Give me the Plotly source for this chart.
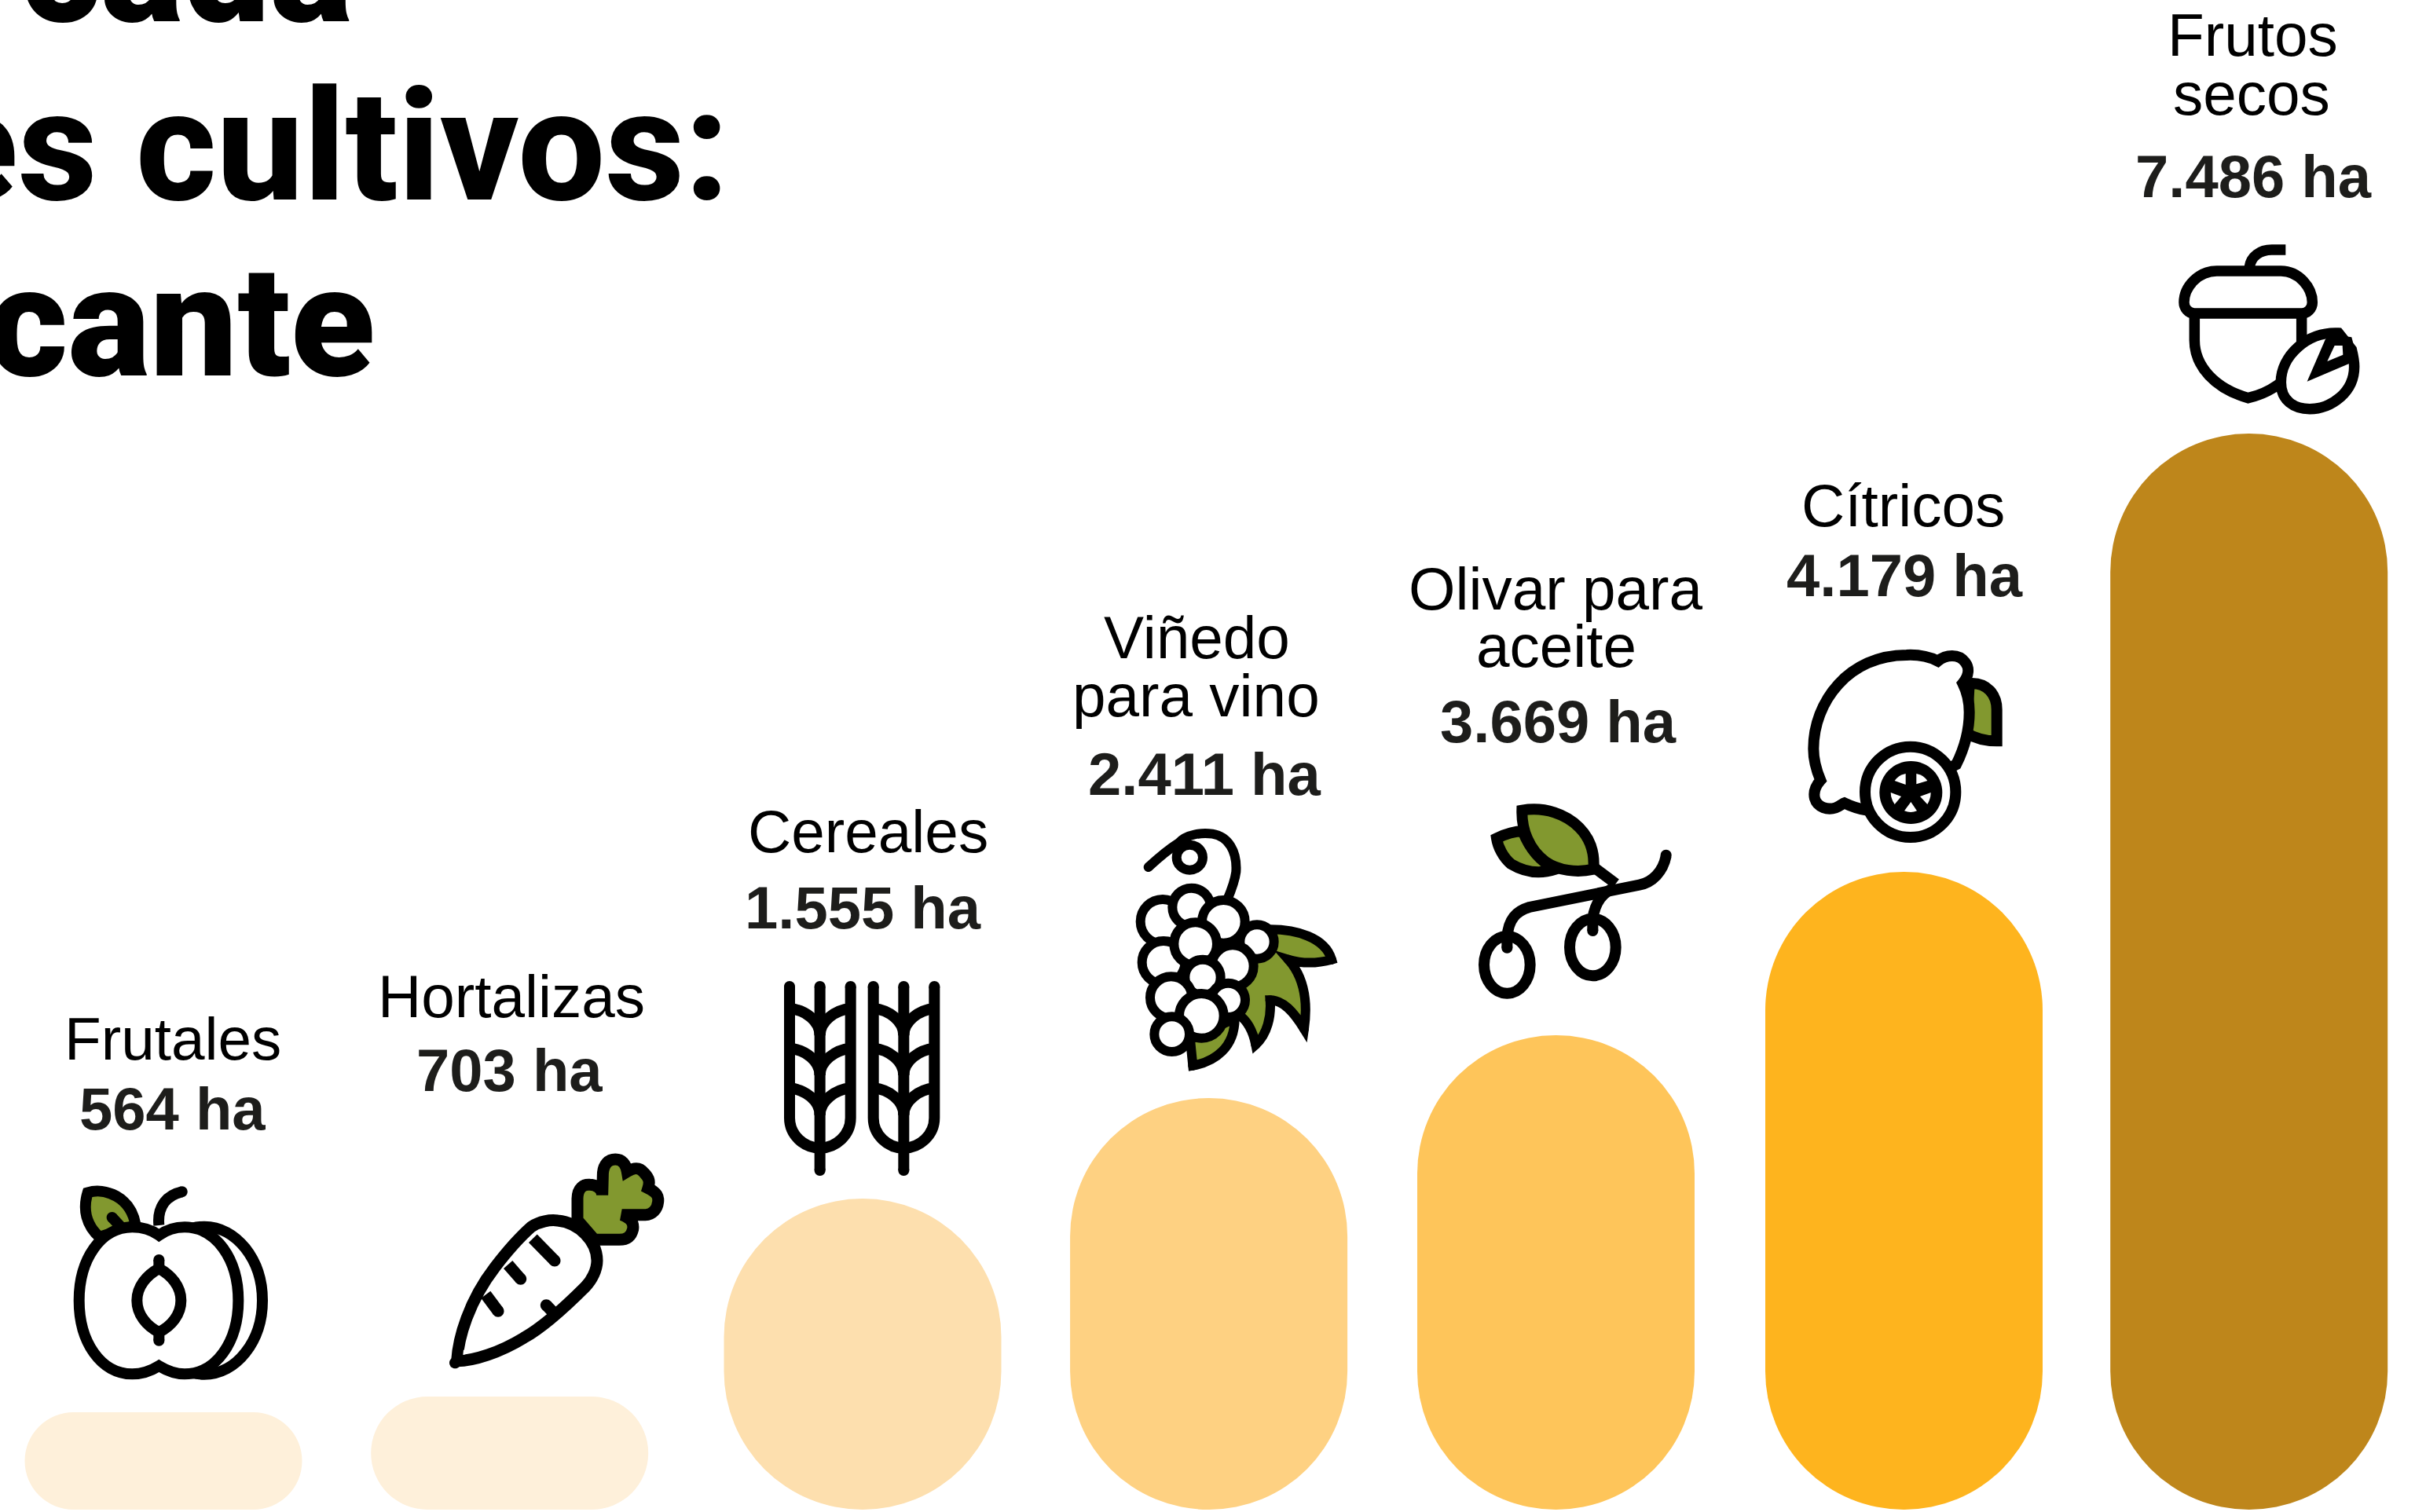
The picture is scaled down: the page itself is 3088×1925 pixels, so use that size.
import re
import plotly.graph_objects as go

W, H = 3088, 1925

# ---- data ----
crops = ["Frutales", "Hortalizas", "Cereales", "Viñedo para vino",
         "Olivar para aceite", "Cítricos", "Frutos secos"]
name_lines = [["Frutales"], ["Hortalizas"], ["Cereales"], ["Viñedo", "para vino"],
              ["Olivar para", "aceite"], ["Cítricos"], ["Frutos", "secos"]]
hectares = ["564 ha", "703 ha", "1.555 ha", "2.411 ha", "3.669 ha", "4.179 ha", "7.486 ha"]
bar_lengths = [124, 144, 396, 524, 604, 812, 1370]
bar_colors = ["#FEF0DA", "#FEF0DA", "#FDDFAE", "#FED182", "#FEC55A", "#FEB41E", "#BE861B"]
title_fragments = ["cada", "es cultivos:", "cante"]

# ---- layout tuning ----
FULL_R = 176
BAR_W = 353
PITCH = 442.7
X0 = 208
nudge = [0, -2, 4.6, 2.5, 1.7, 2, -1.5]
name_pos = [[(220, 1349)], [(651, 1295)], [(1105, 1085)], [(1523, 838), (1522, 912)],
            [(1981, 776), (1981, 849)], [(2422, 670), ], [(2867, 71), (2866, 146)]]
ha_pos = [(219, 1438), (648, 1389), (1098, 1182), (1533, 1012), (1984, 945), (2424, 759), (2868, 251)]
title_pos = [(449, 27), (929, 254), (477, 478)]
title_weight = [900, 800, 900]

GREEN = "#82982F"
BLACK = "#000000"
LABEL = "#1D1D1B"

fig = go.Figure()
for i, crop in enumerate(crops):
    h = bar_lengths[i]
    fig.add_trace(go.Bar(
        x=[crop], y=[h], base=[0],
        width=BAR_W / PITCH, offset=(-BAR_W / 2 + nudge[i]) / PITCH,
        marker=dict(color=bar_colors[i], line=dict(width=0), cornerradius=min(FULL_R, h / 2)),
        showlegend=False, hoverinfo="skip", name=crop,
    ))

anns = []


def text(t, x, base, size, color, weight=400, family="Liberation Sans", anchor="center", desc=0.212):
    anns.append(dict(
        text=t, x=x / W, y=1 - (base + desc * size) / H, xref="paper", yref="paper",
        xanchor=anchor, yanchor="bottom", showarrow=False, borderpad=0, borderwidth=0,
        font=dict(family=family, size=size, color=color, weight=weight),
    ))


for lines, poses in zip(name_lines, name_pos):
    for t, (x, b) in zip(lines, poses):
        text(t, x, b, 76.5, BLACK)
for t, (x, b) in zip(hectares, ha_pos):
    text(t, x, b, 76, LABEL, weight=700)
for t, (x, b), w in zip(title_fragments, title_pos, title_weight):
    text(t, x, b, 197, BLACK, weight=w, family="Roboto", anchor="right", desc=0.244)

shapes = []
_tok = re.compile(r"[MLCQZ]|-?\d+\.?\d*")


def to_paper(path, ox, oy, k=3.0):
    out, nums = [], []
    for tok in _tok.findall(path):
        if tok in "MLCQZ":
            out.append(tok)
        else:
            nums.append(float(tok))
            if len(nums) == 2:
                out.append(f"{(ox + nums[0] / k) / W:.6f},{1 - (oy + nums[1] / k) / H:.6f}")
                nums = []
    s = ""
    for o in out:
        s += o if o in "MLCQZ" else o + " "
    return s


class Icon:
    def __init__(self, ox, oy, lw=14):
        self.ox, self.oy, self.lw = ox, oy, lw

    def p(self, path, fill=None, lw=None, color=BLACK):
        lw = self.lw if lw is None else lw
        shapes.append(dict(
            type="path", xref="paper", yref="paper", layer="above",
            path=to_paper(path, self.ox, self.oy),
            fillcolor=fill if fill else "rgba(0,0,0,0)",
            line=dict(color=color, width=lw),
        ))

    def ell(self, cx, cy, rx, ry, fill=None, lw=None):
        c = 0.5523
        d = (f"M{cx - rx},{cy} C{cx - rx},{cy - c * ry} {cx - c * rx},{cy - ry} {cx},{cy - ry} "
             f"C{cx + c * rx},{cy - ry} {cx + rx},{cy - c * ry} {cx + rx},{cy} "
             f"C{cx + rx},{cy + c * ry} {cx + c * rx},{cy + ry} {cx},{cy + ry} "
             f"C{cx - c * rx},{cy + ry} {cx - rx},{cy + c * ry} {cx - rx},{cy} Z")
        self.p(d, fill=fill, lw=lw)

    def cap(self, x, y, z=None):
        z = (self.lw * 3) if z is None else z
        self.ell(x, y, z / 2, z / 2, fill=BLACK, lw=0)


# ---- Frutales ----
a = Icon(60, 1480)
a.p("M155,115 C220,95 320,130 338,240 L200,285 C150,240 135,180 155,115 Z", fill=GREEN)
a.cap(155, 115, 36)
a.p("M248,210 L285,250", lw=14)
a.cap(248, 210)
a.p("M427,240 C420,170 455,125 515,112")
a.cap(515, 112)
a.ell(600, 527, 222, 282, fill="#FFFFFF")
a.p("M427,278 C395,255 365,247 325,247 C205,247 122,370 122,527 C122,685 205,808 325,808 "
    "C365,808 395,797 427,777 C460,797 490,808 525,808 C645,808 730,685 730,527 "
    "C730,370 645,247 525,247 C490,247 460,255 427,278 Z", fill="#FFFFFF")
a.p("M427,372 L427,405")
a.p("M427,648 L427,680")
a.cap(427, 372)
a.cap(427, 680)
a.p("M427,405 C380,430 343,475 343,527 C343,580 380,625 427,648 C475,625 511,580 511,527 "
    "C511,475 475,430 427,405 Z", fill="#FFFFFF")

# ---- Hortalizas ----
a = Icon(540, 1440, lw=15)
a.p("M585,340 L585,260 C585,215 610,203 632,205 C655,205 680,220 680,245 L682,170 "
    "C682,125 705,108 730,108 C755,108 770,125 775,155 C800,140 820,135 840,160 "
    "C860,180 862,195 855,218 C890,235 895,250 893,270 C890,300 870,320 845,320 L755,320 "
    "C795,335 800,355 797,375 C790,405 770,415 745,415 L650,415 Z", fill=GREEN)
a.p("M125,878 C130,790 170,650 270,520 C320,455 370,400 410,365 C440,345 480,338 510,342 "
    "C590,350 660,420 660,495 C660,530 640,570 615,595 C540,670 460,745 380,790 "
    "C290,845 190,878 125,878 Z", fill="#FFFFFF")
a.cap(118, 885, 44)
for d, c in [("M415,410 L498,495", (498, 495)), ("M320,510 L368,565", (368, 565)),
             ("M235,625 L282,688", (282, 688)), ("M490,690 L466,665", (466, 665))]:
    a.p(d)
    a.cap(*c)
a.p("M148,855 L165,850 L150,835 Z", fill="#FFFFFF", lw=0)

# ---- Cereales ----
for dx in (0, 320):
    a = Icon(960 + dx / 3, 1220)
    a.p("M135,108 L135,610 C135,675 190,725 251,725 C312,725 368,675 368,610 L368,108", fill="#FFFFFF")
    a.p("M251,108 L251,810")
    for c in [(135, 108), (368, 108), (251, 108), (251, 810)]:
        a.cap(*c)
    for s in (0, 152, 304):
        a.p(f"M135,{192 + s} C195,{197 + s} 251,{240 + s} 251,{295 + s}")
        a.p(f"M368,{192 + s} C310,{197 + s} 251,{240 + s} 251,{295 + s}")

# ---- Viñedo ----
a = Icon(1420, 1040, lw=12)
a.p("M285,850 L295,950 C380,935 455,880 455,770 Z", fill=GREEN)
a.p("M590,430 C690,430 800,460 825,545 C770,560 710,560 660,545 C700,590 740,670 720,810 "
    "C680,745 640,700 590,700 C595,760 580,830 535,870 C525,820 505,780 470,755 L480,600 Z",
    fill=GREEN)
for c in [(825, 545), (720, 810), (535, 870), (295, 950), (660, 545), (590, 700)]:
    a.cap(*c)
a.p("M125,192 C165,155 200,125 240,100 C270,65 330,60 370,65 C430,75 465,130 460,210 "
    "C455,250 440,285 425,320")
a.cap(125, 192)
a.ell(283, 155, 50, 48)
for cx, cy, r in [(180, 400, 85), (290, 345, 73), (412, 400, 82), (540, 477, 65),
                  (183, 556, 82), (305, 485, 82), (447, 570, 80), (333, 613, 68),
                  (430, 700, 65), (212, 690, 80), (328, 760, 85), (215, 830, 67)]:
    a.ell(cx, cy, r, r, fill="#FFFFFF")

# ---- Olivar ----
a = Icon(1860, 1010)
a.p("M135,172 C170,155 205,145 235,145 C260,210 300,260 360,290 C300,310 240,300 190,270 "
    "C160,245 140,205 135,172 Z", fill=GREEN)
a.p("M232,65 C320,50 400,80 450,130 C495,175 510,230 505,290 C440,305 370,295 320,260 "
    "C260,215 230,140 232,65 Z", fill=GREEN)
a.p("M510,285 L590,345")
a.p("M782,240 C770,300 730,340 680,350 L260,435 C210,450 180,480 175,550")
a.cap(782, 236)
a.p("M590,360 C540,375 510,420 502,480")
a.ell(175, 655, 88, 109, fill="#FFFFFF")
a.ell(502, 588, 88, 109, fill="#FFFFFF")
a.p("M175,530 L175,590")
a.cap(175, 590)
a.p("M502,465 L502,525")
a.cap(502, 525)

# ---- Cítricos ----
a = Icon(2280, 810)
a.p("M680,180 C750,175 785,225 785,280 L785,400 C745,400 710,395 670,370 Z", fill=GREEN)
a.p("M560,95 C520,75 480,70 440,72 C220,72 85,250 85,430 C85,470 95,510 112,550 "
    "C90,575 85,600 90,620 C100,655 140,665 170,655 C185,650 195,640 203,637 "
    "C230,650 260,660 290,665 L630,490 C660,430 680,360 680,290 C680,250 670,210 655,180 "
    "C680,150 680,120 665,100 C640,65 590,70 560,95 Z", fill="#FFFFFF")
a.ell(455, 595, 173, 173, fill="#FFFFFF")
a.ell(457, 597, 120, 120, fill=BLACK, lw=0)
for d in ["M437,525 L437,567 L395,552 Q410,530 437,525 Z",
          "M478,525 L478,565 L520,552 Q505,530 478,525 Z",
          "M380,597 L420,612 L395,642 Q380,620 380,597 Z",
          "M533,597 L492,612 L520,642 Q533,620 533,597 Z",
          "M457,633 L480,667 Q457,677 432,667 Z"]:
    a.p(d, fill="#FFFFFF", lw=0)

# ---- Frutos secos ----
a = Icon(2750, 290, lw=13.5)
a.p("M478,84 L425,84 C380,84 345,110 340,150")
a.p("M130,327 L130,430 C130,530 210,615 335,650 C400,635 500,590 539,480 L539,327", fill="#FFFFFF")
a.p("M215,165 L460,165 C530,165 580,230 580,285 C580,310 560,327 540,327 L130,327 "
    "C105,327 90,305 90,285 C90,225 145,165 215,165 Z", fill="#FFFFFF")
a.p("M680,402 C560,395 460,490 460,590 C460,660 510,692 570,692 C650,692 740,630 740,530 "
    "C740,505 735,485 730,465 L680,402 Z", fill="#FFFFFF")
a.p("M560,587 L630,425 L660,408 L730,418 L742,465 L722,518 Z", fill=BLACK, lw=0)
a.p("M637,510 L665,450 L695,450 L697,485 Z", fill="#FFFFFF", lw=0)

fig.update_layout(
    width=W, height=H, autosize=False,
    margin=dict(l=0, r=0, t=0, b=0, pad=0),
    paper_bgcolor="#FFFFFF", plot_bgcolor="#FFFFFF",
    barmode="overlay", showlegend=False,
    annotations=anns, shapes=shapes,
    xaxis=dict(type="category", categoryorder="array", categoryarray=crops, visible=False,
               range=[-X0 / PITCH, (W - X0) / PITCH], fixedrange=True),
    yaxis=dict(visible=False, range=[-3, 1922], fixedrange=True),
)
fig.write_html("out.html", config={"displayModeBar": False},
               post_script="document.body.style.margin='0';")
